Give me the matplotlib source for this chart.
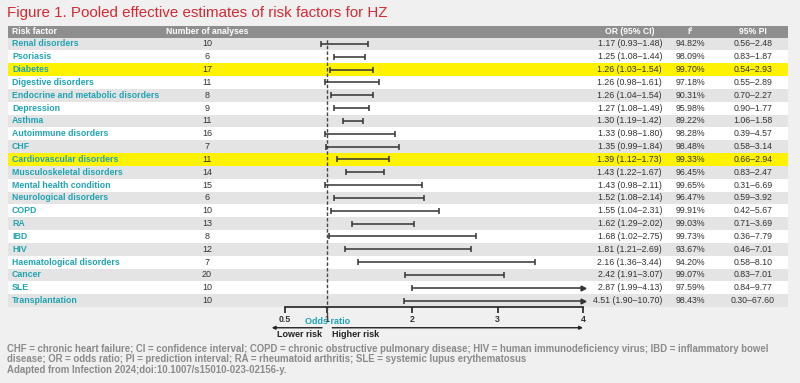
import matplotlib
matplotlib.use("Agg")
import matplotlib.pyplot as plt

plt.rcParams['font.family'] = ['Liberation Sans', 'DejaVu Sans']

# data
factors = ["Renal disorders", "Psoriasis", "Diabetes", "Digestive disorders",
           "Endocrine and metabolic disorders", "Depression", "Asthma",
           "Autoimmune disorders", "CHF", "Cardiovascular disorders",
           "Musculoskeletal disorders", "Mental health condition",
           "Neurological disorders", "COPD", "RA", "IBD", "HIV",
           "Haematological disorders", "Cancer", "SLE", "Transplantation"]
n_analyses = [10, 6, 17, 11, 8, 9, 11, 16, 7, 11, 14, 15, 6, 10, 13, 8, 12, 7, 20, 10, 10]
odds = [1.17, 1.25, 1.26, 1.26, 1.26, 1.27, 1.30, 1.33, 1.35, 1.39, 1.43,
        1.43, 1.52, 1.55, 1.62, 1.68, 1.81, 2.16, 2.42, 2.87, 4.51]
ci_lo = [0.93, 1.08, 1.03, 0.98, 1.04, 1.08, 1.19, 0.98, 0.99, 1.12, 1.22,
         0.98, 1.08, 1.04, 1.29, 1.02, 1.21, 1.36, 1.91, 1.99, 1.90]
ci_hi = [1.48, 1.44, 1.54, 1.61, 1.54, 1.49, 1.42, 1.80, 1.84, 1.73, 1.67,
         2.11, 2.14, 2.31, 2.02, 2.75, 2.69, 3.44, 3.07, 4.13, 10.70]
i2 = [94.82, 98.09, 99.70, 97.18, 90.31, 95.98, 89.22, 98.28, 98.48, 99.33, 96.45,
      99.65, 96.47, 99.91, 99.03, 99.73, 93.67, 94.20, 99.07, 97.59, 98.43]
pi_lo = [0.56, 0.83, 0.54, 0.55, 0.70, 0.90, 1.06, 0.39, 0.58, 0.66, 0.83,
         0.31, 0.59, 0.42, 0.71, 0.36, 0.46, 0.58, 0.83, 0.84, 0.30]
pi_hi = [2.48, 1.87, 2.93, 2.89, 2.27, 1.77, 1.58, 4.57, 3.14, 2.94, 2.47,
         6.69, 3.92, 5.67, 3.69, 7.79, 7.01, 8.10, 7.01, 9.77, 67.60]
highlight = ["Diabetes", "Cardiovascular disorders"]
ticks = [0.5, 1, 2, 3, 4]

bg = "#f0f0f0"
band = "#e4e4e4"
teal = "#1fa3b3"
dark = "#333333"

W, H = 800, 383
fig = plt.figure(figsize=(8, 3.83), dpi=100, facecolor=bg)
ax = fig.add_axes([0, 0, 1, 1])
ax.set_xlim(0, W)
ax.set_ylim(H, 0)
ax.axis("off")

top, row_h = 37.5, (307 - 37.5) / len(factors)

ax.text(7, 12.5, "Figure 1. Pooled effective estimates of risk factors for HZ",
        color="#d42a32", fontsize=10.9, va="center", ha="left")

# header bar
ax.add_patch(plt.Rectangle((8, 26), 780, 11.5, color="#8e8e8e", lw=0))
hdr = dict(color="white", fontsize=6.2, fontweight="bold", va="center")
ax.text(12, 31.8, "Risk factor", ha="left", **hdr)
ax.text(207, 31.8, "Number of analyses", ha="center", **hdr)
ax.text(630, 31.8, "OR (95% CI)", ha="center", **hdr)
ax.text(690, 31.8, "I²", ha="center", **hdr)
ax.text(753, 31.8, "95% PI", ha="center", **hdr)

for i, name in enumerate(factors):
    y0 = top + i * row_h
    yc = y0 + row_h / 2
    if name in highlight:
        c = "#fff200"
    elif i % 2 == 0:
        c = band
    else:
        c = "white"
    ax.add_patch(plt.Rectangle((8, y0), 780, row_h, color=c, lw=0))
    ax.text(12, yc, name, color=teal, fontsize=6.3, fontweight="bold", va="center", ha="left")
    ax.text(207, yc, str(n_analyses[i]), color=dark, fontsize=6.5, va="center", ha="center")
    ax.text(662, yc, f"{odds[i]:.2f} ({ci_lo[i]:.2f}–{ci_hi[i]:.2f})", color=dark,
            fontsize=6.3, va="center", ha="right")
    ax.text(690, yc, f"{i2[i]:.2f}%", color=dark, fontsize=6.3, va="center", ha="center")
    ax.text(753, yc, f"{pi_lo[i]:.2f}–{pi_hi[i]:.2f}", color=dark, fontsize=6.3,
            va="center", ha="center")

# forest plot
x0, x1 = 284.5, 583
fa = fig.add_axes([x0 / W, (H - 307) / H, (x1 - x0) / W, (307 - top) / H])
fa.patch.set_alpha(0)
fa.set_xlim(0.5, 4)
fa.set_ylim(len(factors) - 0.5, -0.5)
for s in ["left", "right", "top"]:
    fa.spines[s].set_visible(False)
fa.spines["bottom"].set_color("#222222")
fa.spines["bottom"].set_linewidth(1.2)
fa.set_yticks([])
fa.set_xticks(ticks)
fa.set_xticklabels(["0.5", "1", "2", "3", "4"])
fa.tick_params(axis="x", direction="out", length=4, width=1.2, color="#222222",
               labelsize=6.3, pad=1.5, labelcolor=dark)
for lab in fa.get_xticklabels():
    lab.set_fontweight("bold")

fa.axvline(1, ymin=-0.052, ymax=1, color="#444444", lw=1, ls=(0, (2.5, 1.5)), clip_on=False)

for i in range(len(factors)):
    right = min(ci_hi[i], 4)
    fa.plot([ci_lo[i], right], [i, i], color=dark, lw=1.1, solid_capstyle="butt")
    fa.plot([ci_lo[i]], [i], marker="|", ms=5, mew=1.1, color=dark)
    if ci_hi[i] > 4:
        fa.plot([4], [i], marker=">", ms=3.5, color=dark, clip_on=False)
    else:
        fa.plot([right], [i], marker="|", ms=5, mew=1.1, color=dark)

tr = fa.get_xaxis_transform()
fa.text(1, -0.055, "Odds ratio", transform=tr, color=teal, fontsize=6.5,
        fontweight="bold", ha="center", va="center")
fa.annotate("", xy=(0.35, -0.077), xytext=(0.94, -0.077), xycoords=tr, textcoords=tr,
            arrowprops=dict(arrowstyle="-|>", color="#222222", lw=1, mutation_scale=5,
                            shrinkA=0, shrinkB=0), annotation_clip=False)
fa.annotate("", xy=(4, -0.077), xytext=(1.06, -0.077), xycoords=tr, textcoords=tr,
            arrowprops=dict(arrowstyle="-|>", color="#222222", lw=1, mutation_scale=5,
                            shrinkA=0, shrinkB=0), annotation_clip=False)
fa.text(0.94, -0.102, "Lower risk", transform=tr, color="#222222", fontsize=6.5,
        fontweight="bold", ha="right", va="center")
fa.text(1.06, -0.102, "Higher risk", transform=tr, color="#222222", fontsize=6.5,
        fontweight="bold", ha="left", va="center")

notes = ["CHF = chronic heart failure; CI = confidence interval; COPD = chronic obstructive pulmonary disease; HIV = human immunodeficiency virus; IBD = inflammatory bowel",
         "disease; OR = odds ratio; PI = prediction interval; RA = rheumatoid arthritis; SLE = systemic lupus erythematosus",
         "Adapted from Infection 2024;doi:10.1007/s15010-023-02156-y."]
for k, line in enumerate(notes):
    ax.text(7, 348.5 + k * 10.6, line, color="#8a8a8a", fontsize=6.9,
            fontweight="bold", ha="left", va="center")

fig.savefig("out.png", dpi=100, facecolor=bg)
